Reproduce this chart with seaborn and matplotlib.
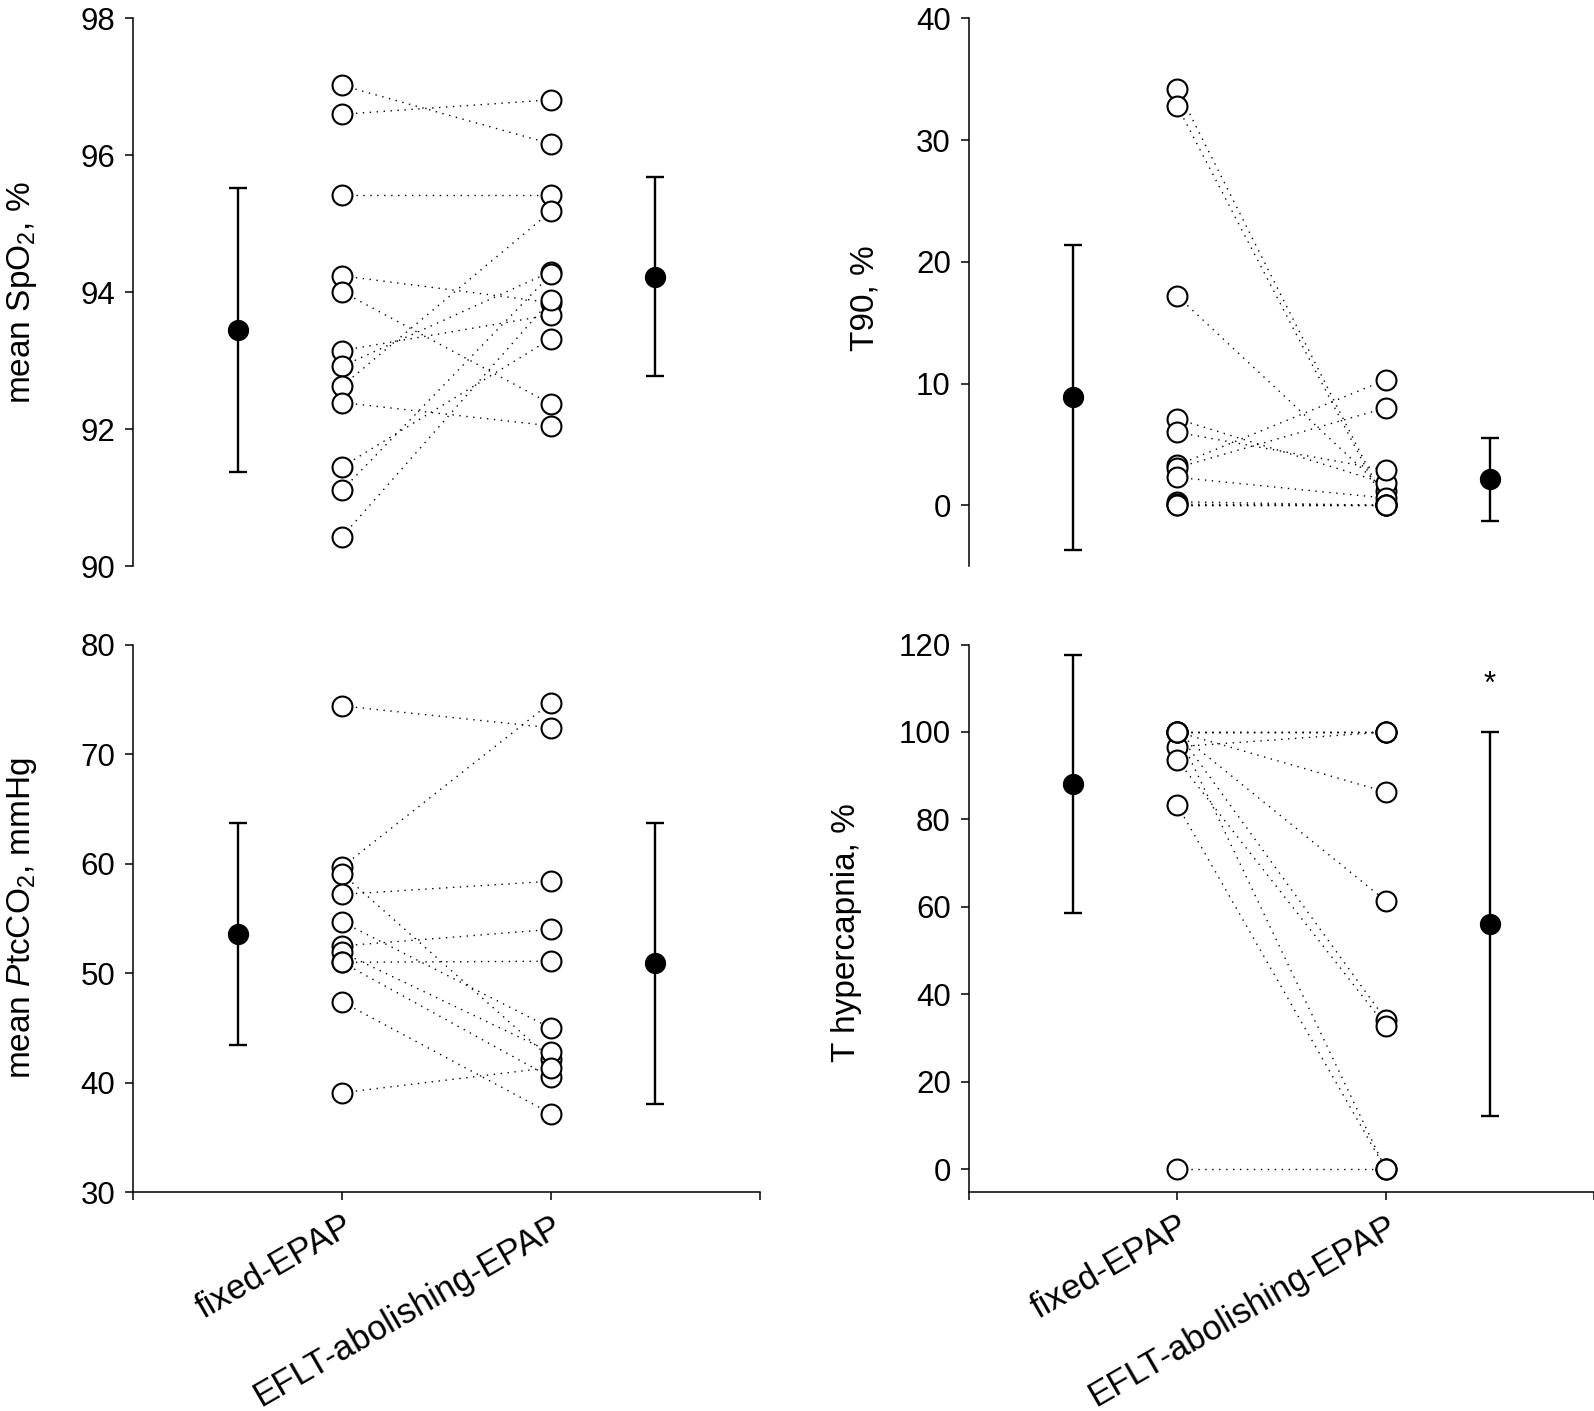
"""
plot.py

Paired before/after plot of four nocturnal gas-exchange variables,
fixed-EPAP vs EFLT-abolishing-EPAP. Each subject is a pair of open
circles joined by a dotted line; the filled circles with error bars
on either side are group mean +/- SD.
"""

import matplotlib
matplotlib.use("Agg")
import matplotlib.pyplot as plt
import seaborn as sns
import pandas as pd

CONDITIONS = ["fixed-EPAP", "EFLT-abolishing-EPAP"]

# mean SpO2, % (n = 12)
spo2_fixed = [97.02, 96.60, 95.42, 94.24, 94.01, 93.15, 92.92, 92.63, 92.39, 91.45, 91.11, 90.43]
spo2_eflt = [96.17, 96.81, 95.42, 93.85, 92.37, 93.67, 94.30, 95.18, 92.05, 93.32, 94.26, 93.89]
spo2_mean = [93.45, 94.23]
spo2_sd = [2.08, 1.45]

# T90, % (n = 12)
t90_fixed = [34.2, 32.8, 17.2, 7.1, 6.0, 3.3, 3.1, 2.3, 0.3, 0.1, 0.0, 0.0]
t90_eflt = [0.2, 0.0, 1.2, 1.8, 2.9, 10.3, 8.0, 0.6, 0.0, 0.0, 0.0, 0.0]
t90_mean = [8.87, 2.15]
t90_sd = [12.5, 3.4]

# mean PtcCO2, mmHg (n = 11)
ptco2_fixed = [74.4, 59.7, 59.1, 57.2, 54.7, 52.5, 51.9, 51.0, 51.0, 47.4, 39.1]
ptco2_eflt = [72.4, 74.7, 42.2, 58.4, 45.0, 54.0, 42.8, 51.1, 40.5, 37.2, 41.4]
ptco2_mean = [53.6, 50.9]
ptco2_sd = [10.1, 12.85]

# T hypercapnia, % (n = 11)
thyper_fixed = [100, 100, 100, 96.6, 100, 100, 100, 93.6, 100, 83.3, 0]
thyper_eflt = [100, 100, 100, 100, 86.3, 61.4, 34.2, 32.8, 0, 0, 0]
thyper_mean = [88.1, 56.05]
thyper_sd = [29.5, 43.95]

FONT = 22.5
XLABEL_FONT = 25
LABEL_FONT = 24


def setup_style():
    sns.set_theme(style="ticks", rc={
        "axes.edgecolor": "black",
        "xtick.color": "black",
        "ytick.color": "black",
        "text.color": "black",
        "axes.labelcolor": "black",
    })
    plt.rcParams["font.family"] = ["Liberation Sans", "DejaVu Sans"]
    plt.rcParams["mathtext.fontset"] = "custom"
    plt.rcParams["mathtext.rm"] = "Liberation Sans"
    plt.rcParams["mathtext.it"] = "Liberation Sans:italic"


def to_long(fixed, eflt):
    """One row per subject per condition; x position 1 = fixed, 2 = EFLT."""
    n = len(fixed)
    return pd.DataFrame({
        "subject": list(range(n)) * 2,
        "pos": [1] * n + [2] * len(eflt),
        "value": list(fixed) + list(eflt),
    })


def draw_panel(ax, fixed, eflt, mean, sd, ylim, yticks, ylabel,
               label_xy, show_x):
    df = to_long(fixed, eflt)

    sns.lineplot(data=df, x="pos", y="value", units="subject", estimator=None,
                 color="black", lw=1.0, linestyle=(0, (1, 4)), ax=ax,
                 legend=False, zorder=1)
    sns.scatterplot(data=df, x="pos", y="value", marker="o", s=205,
                    color="white", edgecolor="black", linewidth=1.5,
                    ax=ax, zorder=3, legend=False)
    ax.errorbar([0.5, 2.5], mean, yerr=sd, fmt="o", color="black",
                ms=14.3, capsize=6.5, elinewidth=1.7, capthick=1.7, zorder=3)

    ax.set_xlim(0, 3)
    ax.set_ylim(*ylim)
    ax.set_yticks(yticks)
    ax.tick_params(axis="y", labelsize=FONT, length=6, width=1.1, pad=7)
    ax.set_xlabel("")
    ax.set_ylabel("")
    ax.text(label_xy[0], label_xy[1], ylabel, transform=ax.transAxes,
            rotation=90, ha="center", va="center", fontsize=LABEL_FONT)

    for side in ["top", "right"]:
        ax.spines[side].set_visible(False)
    ax.spines["left"].set_linewidth(1.1)

    if show_x:
        ax.spines["bottom"].set_linewidth(1.1)
        ax.set_xticks([0, 1, 2, 3])
        ax.set_xticklabels([""] + CONDITIONS + [""], rotation=30,
                           ha="right", rotation_mode="anchor")
        ax.tick_params(axis="x", labelsize=XLABEL_FONT, length=6, width=1.1, pad=6)
    else:
        ax.spines["bottom"].set_visible(False)
        ax.set_xticks([])


def main():
    setup_style()
    fig = plt.figure(figsize=(15.94, 14.11), dpi=100)

    ax_tl = fig.add_axes([0.0836, 0.5987, 0.3929, 0.3883])
    ax_tr = fig.add_axes([0.6078, 0.5987, 0.3922, 0.3883])
    ax_bl = fig.add_axes([0.0836, 0.1549, 0.3929, 0.3883])
    ax_br = fig.add_axes([0.6078, 0.1549, 0.3922, 0.3883])

    draw_panel(ax_tl, spo2_fixed, spo2_eflt, spo2_mean, spo2_sd,
               (90, 98), [90, 92, 94, 96, 98], "mean SpO$_2$, %",
               (-0.177, 0.5), show_x=False)
    draw_panel(ax_tr, t90_fixed, t90_eflt, t90_mean, t90_sd,
               (-5, 40), [0, 10, 20, 30, 40], "T90, %",
               (-0.166, 0.49), show_x=False)
    draw_panel(ax_bl, ptco2_fixed, ptco2_eflt, ptco2_mean, ptco2_sd,
               (30, 80), [30, 40, 50, 60, 70, 80],
               "mean $\\mathit{P}$tcCO$_2$, mmHg",
               (-0.177, 0.5), show_x=True)
    draw_panel(ax_br, thyper_fixed, thyper_eflt, thyper_mean, thyper_sd,
               (-5.35, 120), [0, 20, 40, 60, 80, 100, 120], "T hypercapnia, %",
               (-0.195, 0.474), show_x=True)

    # significance marker above the EFLT-abolishing mean
    ax_br.text(2.5, 110.8, "*", ha="center", va="center", fontsize=FONT)

    fig.savefig("out.png", dpi=100)
    plt.close(fig)


if __name__ == "__main__":
    main()
